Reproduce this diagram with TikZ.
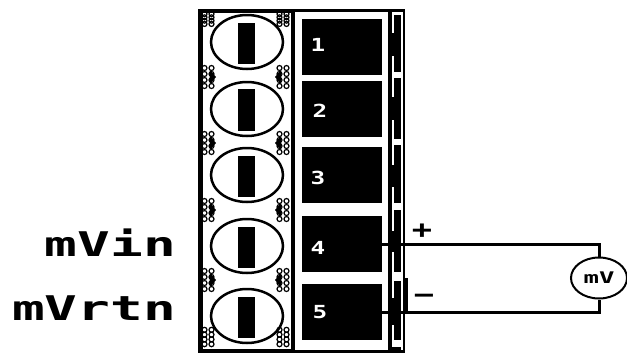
\documentclass[tikz,border=0pt]{standalone}
\usepackage{fontspec}
\newfontfamily\pixfont[FakeStretch=1.6]{DejaVu Sans Mono Bold}
\newfontfamily\numfont[FakeStretch=1.35]{DejaVu Sans Mono Bold}
\usetikzlibrary{shapes.geometric}
\tikzset{
 labeltext/.style={font=\pixfont\fontsize{34}{34}\selectfont,anchor=east,inner sep=0pt},
 numtext/.style={font=\numfont\fontsize{18}{18}\selectfont,text=white,inner sep=0pt},
 signtext/.style={font=\numfont\fontsize{25}{25}\selectfont,inner sep=0pt},
 termbox/.style={fill=black,draw=none,minimum width=80pt,minimum height=56pt,inner sep=0pt},
 meter/.style={draw,line width=2pt,ellipse,minimum width=56pt,minimum height=41pt,inner sep=0pt,fill=white},
 wire/.style={line width=3pt}
}
\begin{document}
\begin{tikzpicture}[x=1pt,y=-1pt,line cap=butt,line join=miter]
 \useasboundingbox (0,0) rectangle (627,354);
 % outer frame
 \draw[line width=4.5pt] (200.5,11) rectangle (293,351);
 \draw[line width=3pt] (293,10.5)--(403,10.5) (293,351.5)--(403,351.5);
 \draw[line width=1.5pt] (404,9)--(404,353);
 % right strip
 \fill (388,11) rectangle (401,350);
 \fill[white] (392,12) rectangle (401,15);
 \fill[white] (392,340) rectangle (401,347);
 \foreach \ya/\yb in {15/33,56/97,120/165,187/231,252/298,325/340}
  \fill[white] (392,\ya) rectangle (394,\yb);
 \foreach \ya/\yb in {72/78,139/145,203/210,272/281}
  \fill[white] (392,\ya) rectangle (401,\yb);
 % screws
 \foreach \y/\ya/\yb in {42/23/64,109/89/131,175/156/197,246/227/268,316/297/338}{
  \draw[line width=2.5pt] (247,\y) ellipse (36 and 27);
  \fill (238,\ya) rectangle (255,\yb);
 }
 % hatching
 \foreach \y/\h in {19/.55,77/1,143/1,210/1,280/1,337/.8}
  \foreach \x/\s in {208/1,283/-1}{
   \foreach \dx/\dy in {-3.5/-9,3.5/-9,-3.5/-3,3.5/-3,-3.5/3,3.5/3,-3.5/9,3.5/9}
    \draw[line width=1.2pt] (\x+\dx*\s,\y+\dy*\h) circle (2.5);
  }
 \foreach \y in {77,143,210,280}{
  \fill (210,\y-7) -- (216,\y) -- (210,\y+7) -- cycle;
  \fill (281,\y-7) -- (275,\y) -- (281,\y+7) -- cycle;
 }
 % terminals
 \node[termbox] (t1) at (342,47) {};
 \node[termbox] (t2) at (342,109) {};
 \node[termbox] (t3) at (342,175) {};
 \node[termbox] (t4) at (342,244) {};
 \node[termbox] (t5) at (342,312) {};
 \node[numtext] (n1) at (318,45) {1};
 \node[numtext] (n2) at (320,111) {2};
 \node[numtext] (n3) at (318,178) {3};
 \node[numtext] (n4) at (318,248) {4};
 \node[numtext] (n5) at (320,312) {5};
 % labels
 \node[labeltext] (vin) at (176,243) {mVin};
 \node[labeltext] (vrtn) at (176,308) {mVrtn};
 % meter and wires
 \node[meter] (mv) at (599,278) {\fontsize{16}{16}\pixfont\selectfont mV};
 \draw[wire] (t4.east)--(mv.north |- t4.east)--(mv.north);
 \draw[wire] (t5.east)--(mv.south |- t5.east)--(mv.south);
 \draw[wire] (406,278)--(406,312);
 \node[signtext] (plus) at (422,231) {+};
 \node[signtext] (minus) at (424,299) {−};
\end{tikzpicture}
\end{document}
